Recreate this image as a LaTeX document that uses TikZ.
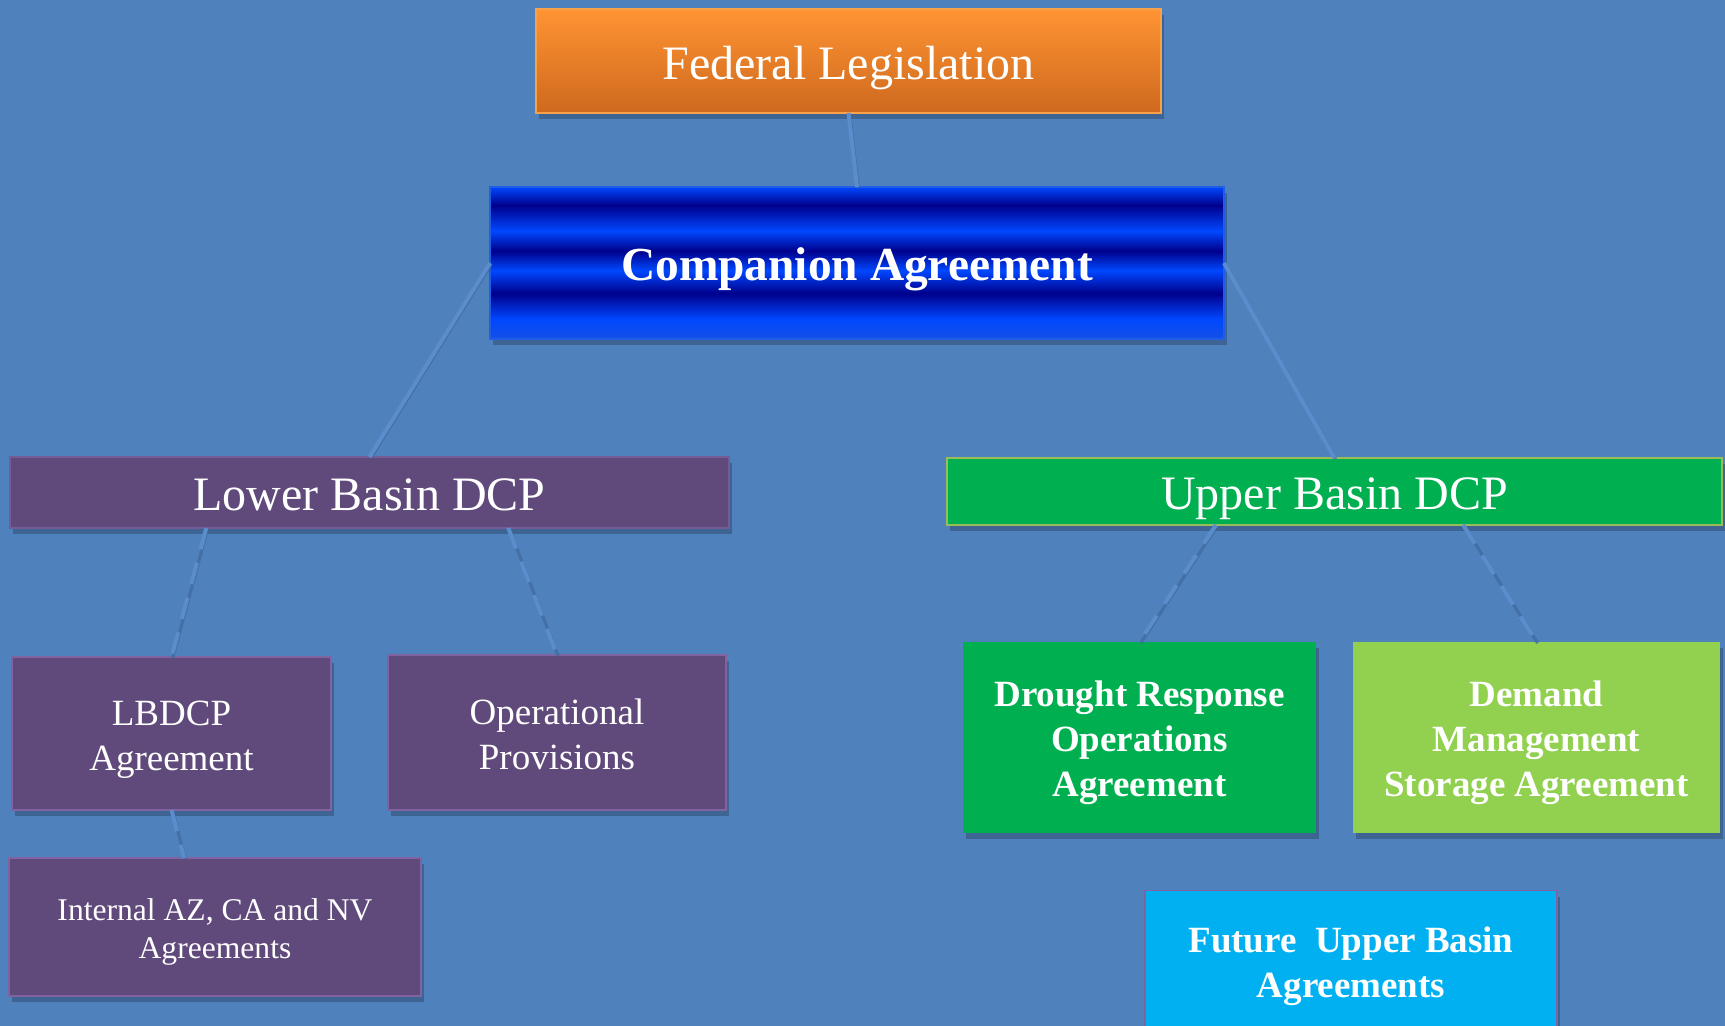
\documentclass[tikz,border=0pt]{standalone}
\usepackage{fontspec}
\setmainfont{Liberation Serif}
\usetikzlibrary{shadows,calc}

\definecolor{slidebg}{HTML}{4F81BD}
\definecolor{linkblue}{HTML}{5B8DCD}
\definecolor{linkshade}{HTML}{3E6A9F}
\definecolor{orangetop}{HTML}{FF9433}
\definecolor{orangebot}{HTML}{CE691E}
\definecolor{orangeline}{HTML}{F9A04A}
\definecolor{stripebright}{RGB}{0,72,255}
\definecolor{stripelight}{RGB}{20,80,230}
\definecolor{stripedark}{RGB}{0,0,140}
\definecolor{basinpurple}{HTML}{604A7B}
\definecolor{purpleline}{HTML}{8064A2}
\definecolor{basingreen}{HTML}{00B050}
\definecolor{greenline}{HTML}{9BBB59}
\definecolor{lightgreen}{HTML}{92D050}
\definecolor{futurecyan}{HTML}{00B0F0}

% only the middle 25bp--75bp of a shading is stretched over the node
\pgfdeclareverticalshading{bluestripes}{100bp}{color(0bp)=(stripelight); color(25bp)=(stripelight); color(31.5bp)=(stripebright); color(40bp)=(stripedark); color(47.5bp)=(stripebright); color(54bp)=(stripedark); color(60.5bp)=(stripebright); color(69bp)=(stripedark); color(75bp)=(stripebright); color(100bp)=(stripebright)}

\begin{document}
\begin{tikzpicture}[x=0.5pt, y=-0.5pt,
	box/.style={rectangle, inner sep=0pt, outer sep=0pt, align=center, text=white,
		drop shadow={shadow xshift=1.5pt, shadow yshift=-3pt, fill=black, opacity=0.22}},
	bigtext/.style={font=\fontsize{24}{28}\selectfont, text height=23.3pt, text depth=5pt},
	twolines/.style={font=\fontsize{18.5}{22.5}\selectfont, text height=40.4pt, text depth=3.9pt},
	threelines/.style={font=\fontsize{18.5}{22.5}\selectfont\bfseries, text height=62.9pt, text depth=3.9pt},
	solidlink/.style={draw=linkblue, line width=2pt,
		preaction={draw=linkshade, draw opacity=0.7, line width=1.6pt, transform canvas={shift={(0.6pt,-0.6pt)}}}},
	dashlink/.style={solidlink, dash pattern=on 11pt off 7pt}]
	% slide background
	\useasboundingbox (0,0) rectangle (1725,1026);
	\clip (0,0) rectangle (1725,1026);
	\fill[slidebg] (0,0) rectangle (1725,1026);
	
	% draw top boxes
	\node[box, bigtext, top color=orangetop, bottom color=orangebot, draw=orangeline, line width=0.8pt,
		minimum width=312.5pt, minimum height=52pt] (fed) at (848.5,61) {Federal Legislation};
	\node[box, shading=bluestripes, draw=stripebright!60!slidebg, line width=0.6pt,
		font=\fontsize{23.7}{28}\selectfont\bfseries, text height=23pt, text depth=5pt,
		minimum width=367pt, minimum height=76pt] (comp) at (857,263) {Companion Agreement};
	
	% draw basin boxes
	\node[box, bigtext, fill=basinpurple, draw=purpleline!70!basinpurple, line width=0.6pt,
		minimum width=359.5pt, minimum height=35.5pt] (lower) at (369.5,492.5) {Lower Basin DCP};
	\node[box, bigtext, fill=basingreen, draw=greenline, line width=0.8pt,
		minimum width=387.5pt, minimum height=33.5pt] (upper) at (1334.5,491.5) {Upper Basin DCP};
	
	% draw lower basin boxes
	\node[box, twolines, fill=basinpurple, draw=purpleline, line width=0.6pt,
		minimum width=159.5pt, minimum height=76.5pt] (lbdcp) at (171.5,733.5) {LBDCP\\Agreement};
	\node[box, twolines, fill=basinpurple, draw=purpleline, line width=0.6pt,
		minimum width=169pt, minimum height=77.5pt] (oper) at (557,732.5) {Operational\\Provisions};
	\node[box, font=\fontsize{15.8}{19}\selectfont, text height=34.3pt, text depth=3.3pt,
		fill=basinpurple, draw=purpleline, line width=0.6pt,
		minimum width=206pt, minimum height=69pt] (internal) at (215,927) {Internal AZ, CA and NV\\Agreements};
	
	% draw upper basin boxes
	\node[box, threelines, fill=basingreen, minimum width=176.5pt, minimum height=95.5pt]
		(drought) at (1139.5,737.5) {Drought Response\\Operations\\Agreement};
	\node[box, threelines, fill=lightgreen, minimum width=183.5pt, minimum height=95.5pt]
		(demand) at (1536.5,737.5) {Demand\\Management\\Storage Agreement};
	\node[box, twolines, font=\fontsize{18.5}{22.5}\selectfont\bfseries, fill=futurecyan, draw=purpleline, line width=0.8pt,
		minimum width=206pt, minimum height=70pt] (future) at (1351,960.5) {Future\ \ Upper Basin\\Agreements};
	
	% draw links
	\draw[solidlink] (fed.south) -- (comp.north);
	\draw[solidlink] (comp.west) -- (lower.north);
	\draw[solidlink] (comp.east) -- (upper.north);
	\draw[dashlink] ($(lower.south west)!0.273!(lower.south east)$) -- (lbdcp.north);
	\draw[dashlink] ($(lower.south west)!0.693!(lower.south east)$) -- (oper.north);
	\draw[dashlink] ($(upper.south west)!0.347!(upper.south east)$) -- (drought.north);
	\draw[dashlink] ($(upper.south west)!0.666!(upper.south east)$) -- (demand.north);
	\draw[dashlink] (lbdcp.south) -- ($(internal.north west)!0.425!(internal.north east)$);
\end{tikzpicture}
\end{document}
